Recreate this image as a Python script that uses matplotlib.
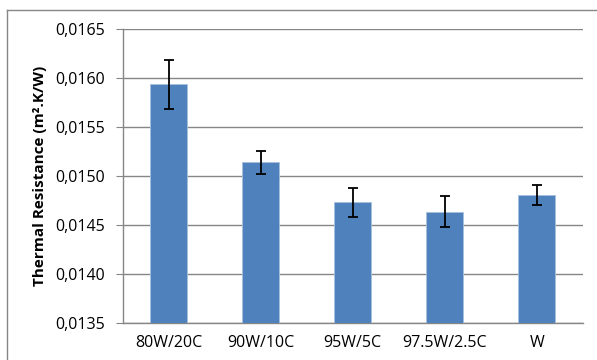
import matplotlib
matplotlib.use("Agg")
import matplotlib.pyplot as plt
from matplotlib.lines import Line2D
from matplotlib.ticker import FuncFormatter

categories = ["80W/20C", "90W/10C", "95W/5C", "97.5W/2.5C", "W"]
values = [0.015935, 0.015138, 0.014730, 0.014634, 0.014804]
errors = [0.00025, 0.000118, 0.00015, 0.000157, 0.000103]
yticks = [0.0135, 0.0140, 0.0145, 0.0150, 0.0155, 0.0160, 0.0165]

plt.rcParams['font.family'] = ['Open Sans', 'DejaVu Sans']

fig = plt.figure(figsize=(5.97, 3.6), dpi=100)
ax = fig.add_axes([0.2055, 0.1036, 0.976 - 0.2055, 0.9194 - 0.1036])

x = list(range(len(categories)))
ax.bar(x, values, width=0.4, color="#4F81BD", edgecolor="#A7BFDE", linewidth=0.6, zorder=3)
ax.errorbar(x, values, yerr=errors, fmt="none", ecolor="black", elinewidth=1.3,
            capsize=3.5, capthick=1.3, zorder=4)

ax.set_xlim(-0.5, len(categories) - 0.5)
ax.set_ylim(yticks[0], yticks[-1])
ax.set_yticks(yticks)
ax.yaxis.set_major_formatter(FuncFormatter(lambda v, p: f"{v:.4f}".replace(".", ",")))
ax.set_xticks(x)
ax.set_xticklabels(categories)
ax.grid(axis="y", color="#868686", linewidth=1.0, zorder=0)
for s in ["top", "right"]:
    ax.spines[s].set_visible(False)
for s in ["left", "bottom"]:
    ax.spines[s].set_color("#868686")
    ax.spines[s].set_linewidth(1.0)
ax.tick_params(axis="y", length=5, color="#868686", labelsize=11.5, pad=8)
ax.tick_params(axis="x", length=0, labelsize=11.5, pad=9)
ax.set_ylabel("Thermal Resistance (m².K/W)", fontsize=11, fontweight="bold", labelpad=6)

# outer chart frame (top and left edges visible)
fig.add_artist(Line2D([7/597, 1.0], [1 - 9.5/360, 1 - 9.5/360], transform=fig.transFigure,
                      color="#868686", linewidth=1.0))
fig.add_artist(Line2D([7/597, 7/597], [0.0, 1 - 9.5/360], transform=fig.transFigure,
                      color="#868686", linewidth=1.0))

fig.savefig("out.png", dpi=100)
